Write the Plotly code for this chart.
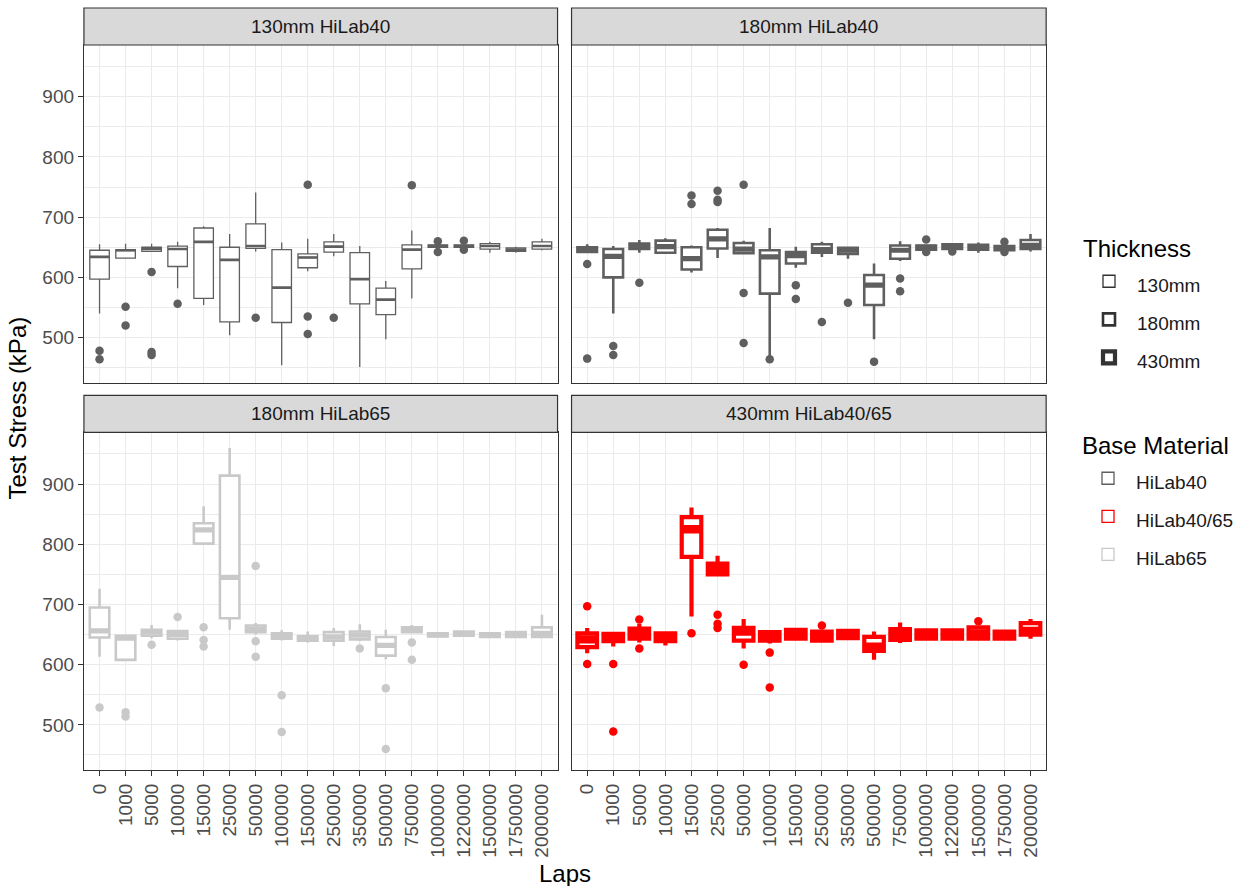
import plotly.graph_objects as go

W, H = 1239, 886

laps = ["0", "1000", "5000", "10000", "15000", "25000", "50000", "100000", "150000",
        "250000", "350000", "500000", "750000", "1000000", "1220000", "1500000",
        "1750000", "2000000"]

# ---- Panel 1: 130mm HiLab40 ----
p1_q3 = [645, 646, 650, 652, 682, 650, 689, 646, 639, 659, 641, 582, 654, 654, 654, 656, 649, 659]
p1_med = [634, 645, 647, 647, 659, 629, 652, 583, 633, 651, 597, 563, 646, 652, 652, 652, 646, 652]
p1_q1 = [597, 632, 643, 618, 565, 526, 648, 525, 616, 642, 556, 538, 614, 650, 650, 647, 643, 647]
p1_hi = [655, 656, 656, 659, 685, 672, 741, 658, 664, 672, 652, 594, 678, 654, 654, 659, 651, 664]
p1_lo = [540, 632, 643, 582, 554, 504, 643, 454, 610, 635, 451, 497, 565, 650, 650, 641, 641, 645]
p1_out_x = ["0", "0", "1000", "1000", "5000", "5000", "5000", "10000", "50000", "150000",
            "150000", "150000", "250000", "750000", "1000000", "1000000", "1220000", "1220000"]
p1_out_y = [478, 464, 551, 520, 609, 476, 471, 556, 533, 754, 535, 506, 533, 753, 660, 642, 661, 646]

# ---- Panel 2: 180mm HiLab40 ----
p2_q3 = [650, 647, 656, 661, 650, 679, 657, 645, 642, 655, 649, 604, 653, 653, 655, 654, 652, 662]
p2_med = [646, 635, 652, 651, 631, 664, 647, 634, 636, 646, 645, 587, 645, 650, 652, 650, 649, 653]
p2_q1 = [642, 600, 647, 641, 613, 648, 640, 573, 623, 641, 639, 554, 631, 646, 647, 646, 645, 647]
p2_hi = [655, 652, 662, 665, 653, 682, 661, 682, 651, 659, 649, 623, 660, 653, 655, 658, 652, 672]
p2_lo = [642, 540, 641, 641, 608, 632, 640, 468, 616, 634, 631, 497, 627, 646, 647, 641, 645, 643]
p2_out_x = ["0", "0", "1000", "1000", "5000", "15000", "15000", "25000", "25000", "25000",
            "50000", "50000", "50000", "100000", "150000", "150000", "250000", "350000",
            "500000", "750000", "750000", "1000000", "1000000", "1220000", "1750000", "1750000"]
p2_out_y = [622, 465, 486, 471, 591, 736, 722, 744, 729, 725, 754, 574, 491, 464, 587, 564,
            526, 558, 460, 598, 577, 663, 642, 643, 659, 642]

# ---- Panel 3: 180mm HiLab65 ----
p3_q3 = [695, 648, 658, 656, 835, 914, 665, 652, 647, 654, 655, 646, 662, 652, 655, 652, 654, 662]
p3_med = [656, 644, 654, 650, 824, 745, 659, 648, 644, 646, 649, 632, 658, 650, 651, 649, 650, 652]
p3_q1 = [645, 608, 648, 643, 801, 677, 654, 643, 640, 640, 642, 615, 654, 647, 648, 646, 646, 646]
p3_hi = [726, 650, 666, 658, 863, 960, 669, 657, 655, 661, 667, 658, 666, 652, 655, 652, 654, 683]
p3_lo = [613, 608, 644, 640, 801, 658, 650, 640, 637, 631, 639, 609, 654, 647, 648, 646, 646, 646]
p3_out_x = ["0", "1000", "1000", "5000", "10000", "15000", "15000", "15000", "50000", "50000",
            "50000", "100000", "100000", "350000", "500000", "500000", "750000", "750000"]
p3_out_y = [529, 521, 514, 633, 679, 662, 641, 630, 764, 639, 613, 549, 488, 627, 561, 460, 637, 608]

# ---- Panel 4: 430mm HiLab40/65 ----
p4_q3 = [652, 651, 660, 652, 845, 768, 661, 654, 658, 655, 656, 646, 659, 657, 657, 662, 655, 669]
p4_med = [642, 647, 651, 647, 825, 759, 655, 647, 651, 647, 650, 630, 651, 650, 650, 652, 650, 656]
p4_q1 = [629, 639, 643, 639, 779, 750, 640, 640, 643, 640, 644, 623, 641, 643, 643, 643, 643, 650]
p4_hi = [661, 651, 668, 652, 861, 781, 676, 654, 659, 655, 657, 655, 670, 659, 659, 662, 655, 676]
p4_lo = [619, 630, 637, 632, 680, 750, 627, 635, 643, 639, 644, 608, 636, 641, 641, 641, 643, 643]
p4_out_x = ["0", "0", "1000", "1000", "5000", "5000", "15000", "25000", "25000", "25000",
            "50000", "100000", "100000", "250000", "1500000"]
p4_out_y = [697, 601, 601, 489, 675, 627, 652, 683, 668, 661, 600, 620, 562, 665, 672]

panel_titles = ["130mm HiLab40", "180mm HiLab40", "180mm HiLab65", "430mm HiLab40/65"]
thickness_names = ["130mm", "180mm", "430mm"]
material_names = ["HiLab40", "HiLab40/65", "HiLab65"]

# styles
mat_colors = {"HiLab40": "#5F5F5F", "HiLab40/65": "#FF0000", "HiLab65": "#C9C9C9"}
thk_widths = {"130mm": 1.3, "180mm": 2.6, "430mm": 4.2}

panels = [
    dict(q1=p1_q1, med=p1_med, q3=p1_q3, lo=p1_lo, hi=p1_hi, ox=p1_out_x, oy=p1_out_y,
         thk="130mm", mat="HiLab40", ax="x", ay="y"),
    dict(q1=p2_q1, med=p2_med, q3=p2_q3, lo=p2_lo, hi=p2_hi, ox=p2_out_x, oy=p2_out_y,
         thk="180mm", mat="HiLab40", ax="x2", ay="y2"),
    dict(q1=p3_q1, med=p3_med, q3=p3_q3, lo=p3_lo, hi=p3_hi, ox=p3_out_x, oy=p3_out_y,
         thk="180mm", mat="HiLab65", ax="x3", ay="y3"),
    dict(q1=p4_q1, med=p4_med, q3=p4_q3, lo=p4_lo, hi=p4_hi, ox=p4_out_x, oy=p4_out_y,
         thk="430mm", mat="HiLab40/65", ax="x4", ay="y4"),
]

FONT = "Liberation Sans, Arial, sans-serif"
BOXW = 0.75

fig = go.Figure()
for p in panels:
    col = mat_colors[p["mat"]]
    lw = thk_widths[p["thk"]]
    fig.add_trace(go.Scatter(x=p["ox"], y=p["oy"], mode="markers", xaxis=p["ax"], yaxis=p["ay"],
                             marker=dict(color=col, size=8.5, line=dict(width=0)),
                             showlegend=False, hoverinfo="y"))
    fig.add_trace(go.Box(x=laps, q1=p["q1"], median=p["med"], q3=p["q3"],
                         lowerfence=p["lo"], upperfence=p["hi"], boxpoints=False,
                         xaxis=p["ax"], yaxis=p["ay"], width=BOXW, whiskerwidth=0,
                         line=dict(color=col, width=lw), fillcolor="white",
                         showlegend=False))
    # thicker median bar (ggplot's fattened median)
    fig.add_trace(go.Box(x=laps, q1=p["med"], median=p["med"], q3=p["med"],
                         lowerfence=p["med"], upperfence=p["med"], boxpoints=False,
                         xaxis=p["ax"], yaxis=p["ay"], width=BOXW, whiskerwidth=0,
                         line=dict(color=col, width=lw * 2), fillcolor="rgba(0,0,0,0)",
                         showlegend=False, hoverinfo="skip"))

# legend-only traces on a hidden subplot
for t in thickness_names:
    fig.add_trace(go.Box(x=[laps[0]], y=[0], name='<span style="font-size:19px">' + t + '</span>',
                         legend="legend", xaxis="x5", yaxis="y5",
                         line=dict(color="#333333", width=thk_widths[t]), fillcolor="white",
                         boxpoints=False, hoverinfo="skip"))
for m in material_names:
    fig.add_trace(go.Box(x=[laps[0]], y=[0], name='<span style="font-size:19px">' + m + '</span>',
                         legend="legend2", xaxis="x5", yaxis="y5",
                         line=dict(color=mat_colors[m], width=1.3), fillcolor="white",
                         boxpoints=False, hoverinfo="skip"))

# panel geometry (pixels -> paper)
xl = [84 / W, 558 / W]
xr = [572 / W, 1047 / W]
yt = [1 - 382.7 / H, 1 - 45 / H]
yb = [1 - 770 / H, 1 - 432.3 / H]
strip_h = 37 / H

grid = "#EBEBEB"
border = "#333333"
tickfont = dict(family=FONT, size=19, color="#4D4D4D")

def xax(domain, anchor, bottom):
    return dict(domain=domain, anchor=anchor, type="category", categoryorder="array",
                categoryarray=laps, range=[-0.6, len(laps) - 0.4], showgrid=True,
                gridcolor=grid, gridwidth=1.1, zeroline=False, showline=True, mirror=True,
                linecolor=border, linewidth=1.2, ticks="outside" if bottom else "",
                ticklen=5, tickcolor=border, tickwidth=1.1, showticklabels=bottom,
                tickangle=-90, tickfont=tickfont, fixedrange=True)

def yax(domain, anchor, left):
    return dict(domain=domain, anchor=anchor, range=[425, 986], tickvals=[500, 600, 700, 800, 900],
                showgrid=True, gridcolor=grid, gridwidth=1.1, zeroline=False, showline=True,
                mirror=True, linecolor=border, linewidth=1.2, ticks="outside" if left else "",
                ticklen=5, tickcolor=border, tickwidth=1.1, showticklabels=left,
                tickfont=tickfont, fixedrange=True,
                minor=dict(dtick=50, tick0=0, showgrid=True, gridcolor=grid, gridwidth=0.6, ticks=""))

layout = dict(
    width=W, height=H, autosize=False,
    margin=dict(l=0, r=0, t=0, b=0),
    paper_bgcolor="white", plot_bgcolor="white",
    font=dict(family=FONT, color="#1A1A1A"),
    boxmode="overlay",
    xaxis=xax(xl, "y", False), yaxis=yax(yt, "x", True),
    xaxis2=xax(xr, "y2", False), yaxis2=yax(yt, "x2", False),
    xaxis3=xax(xl, "y3", True), yaxis3=yax(yb, "x3", True),
    xaxis4=xax(xr, "y4", True), yaxis4=yax(yb, "x4", False),
    xaxis5=dict(domain=[0, 0.005], anchor="y5", range=[5, 6], visible=False, type="category"),
    yaxis5=dict(domain=[0, 0.005], anchor="x5", range=[5, 6], visible=False),
    legend=dict(title=dict(text="Thickness", font=dict(size=24, color="black")),
                x=1081 / W, y=1 - 226 / H, xanchor="left", yanchor="top",
                font=dict(size=27, color="#1A1A1A"), bgcolor="rgba(0,0,0,0)",
                itemwidth=46, itemclick=False, itemdoubleclick=False),
    legend2=dict(title=dict(text="Base Material", font=dict(size=24, color="black")),
                 x=1081 / W, y=1 - 423 / H, xanchor="left", yanchor="top",
                 font=dict(size=27, color="#1A1A1A"), bgcolor="rgba(0,0,0,0)",
                 itemwidth=46, itemclick=False, itemdoubleclick=False),
)
fig.update_layout(**layout)

shapes = []
annotations = []
for title, dx, dy in zip(panel_titles, [xl, xr, xl, xr], [yt, yt, yb, yb]):
    shapes.append(dict(type="rect", xref="paper", yref="paper", x0=dx[0], x1=dx[1],
                       y0=dy[1], y1=dy[1] + strip_h, fillcolor="#D9D9D9",
                       line=dict(color=border, width=1.2), layer="above"))
    annotations.append(dict(text=title, xref="paper", yref="paper", x=(dx[0] + dx[1]) / 2,
                            y=dy[1] + strip_h / 2, showarrow=False, xanchor="center",
                            yanchor="middle", font=dict(family=FONT, size=19, color="#1A1A1A")))

annotations.append(dict(text="Test Stress (kPa)", xref="paper", yref="paper", x=18 / W,
                        y=(yt[1] + yb[0]) / 2, textangle=-90, showarrow=False,
                        xanchor="center", yanchor="middle",
                        font=dict(family=FONT, size=24, color="black")))
annotations.append(dict(text="Laps", xref="paper", yref="paper", x=(xl[0] + xr[1]) / 2,
                        y=1 - 873 / H, showarrow=False, xanchor="center", yanchor="middle",
                        font=dict(family=FONT, size=24, color="black")))
fig.update_layout(shapes=shapes, annotations=annotations)

fig.write_html("out.html")
